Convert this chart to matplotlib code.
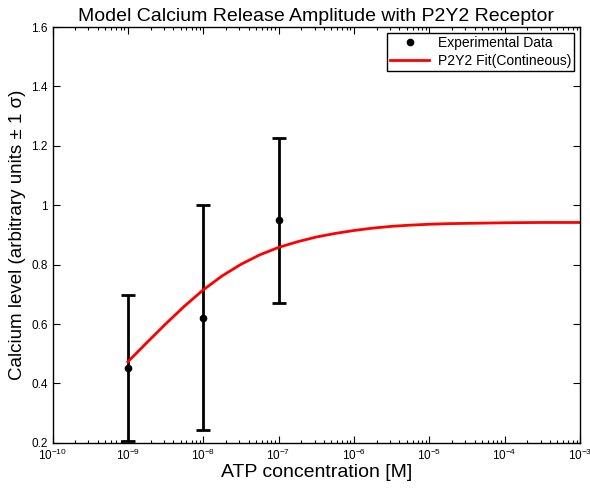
import numpy as np
import matplotlib
matplotlib.use("Agg")
import matplotlib.pyplot as plt
from matplotlib.ticker import LogLocator, FixedLocator

plt.rcParams['font.family'] = ['Liberation Sans', 'DejaVu Sans']
plt.rcParams['mathtext.fontset'] = 'custom'
plt.rcParams['mathtext.rm'] = 'Liberation Sans'
plt.rcParams['mathtext.it'] = 'Liberation Sans:italic'

# experimental data
atp_conc = [1e-9, 1e-8, 1e-7]
calcium = [0.452, 0.622, 0.950]
calcium_sd = [0.245, 0.380, 0.278]

# fitted curve (log10 of concentration)
fit_exp = [-9, -8.75, -8.5, -8.25, -8, -7.75, -7.5, -7.25, -7, -6.75, -6.5,
           -6.25, -6, -5.75, -5.5, -5.25, -5, -4.75, -4.5, -4, -3.5, -3]
fit_level = [0.473, 0.537, 0.600, 0.660, 0.715, 0.762, 0.801, 0.833, 0.858,
             0.877, 0.893, 0.905, 0.915, 0.923, 0.929, 0.933, 0.936, 0.938,
             0.939, 0.941, 0.942, 0.942]
fit_conc = [10.0 ** e for e in fit_exp]

fig = plt.figure(figsize=(5.9, 4.91), dpi=100)
ax = fig.add_axes([0.089, 0.098, 0.894, 0.847])

ax.errorbar(atp_conc, calcium, yerr=calcium_sd, fmt='none', ecolor='black',
            elinewidth=2, capsize=5, capthick=2)
ax.plot(atp_conc, calcium, 'o', color='black', markersize=4.5,
        label='Experimental Data')
ax.plot(fit_conc, fit_level, color='red', linewidth=2,
        label='P2Y2 Fit(Contineous)')

ax.set_xscale('log')
ax.set_xlim(1e-10, 1e-3)
ax.set_ylim(0.2, 1.6)
ax.xaxis.set_major_locator(LogLocator(base=10, numticks=20))
ax.xaxis.set_minor_locator(LogLocator(base=10, subs=np.arange(2, 10), numticks=20))
ax.yaxis.set_major_locator(FixedLocator([0.2, 0.4, 0.6, 0.8, 1.0, 1.2, 1.4, 1.6]))
ax.set_yticklabels(['0.2', '0.4', '0.6', '0.8', '1', '1.2', '1.4', '1.6'])

ax.tick_params(which='both', direction='in', top=True, right=True,
               labelsize=8.5, width=0.8)
ax.tick_params(which='major', length=5)
ax.tick_params(which='minor', length=2.5)
for s in ax.spines.values():
    s.set_linewidth(1)

ax.set_title('Model Calcium Release Amplitude with P2Y2 Receptor', fontsize=14, pad=4)
ax.set_xlabel('ATP concentration [M]', fontsize=14, labelpad=1)
ax.set_ylabel('Calcium level (arbitrary units \u00b1 1 \u03c3)', fontsize=13.5, labelpad=4)

leg = ax.legend(loc='upper right', fontsize=10, fancybox=False,
                edgecolor='black', framealpha=1, borderaxespad=0.4,
                handlelength=2.8, handletextpad=0.6, borderpad=0.25,
                labelspacing=0.25)
leg.get_frame().set_linewidth(1)

fig.savefig('out.png', dpi=100)
